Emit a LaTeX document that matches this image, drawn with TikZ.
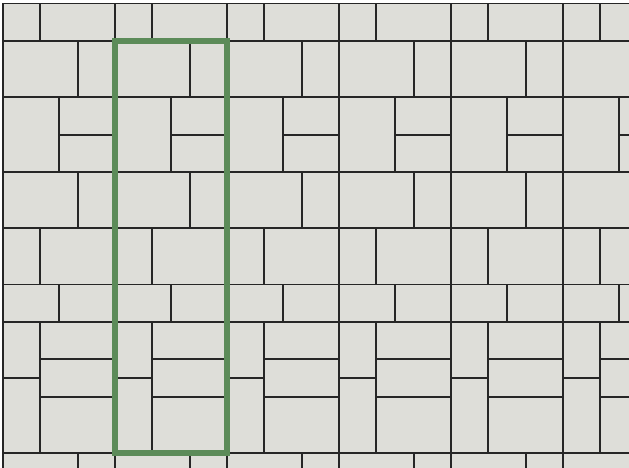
\documentclass[tikz,border=0pt]{standalone}
\definecolor{tilefill}{RGB}{222,222,217}
\definecolor{tileline}{RGB}{38,38,38}
\definecolor{framegreen}{RGB}{92,139,89}

\begin{document}
\begin{tikzpicture}[x=1.12cm, y=-1.1236cm,
  tile/.style={draw=tileline, fill=tilefill, line width=1.6pt},
  cell frame/.style={draw=framegreen, line width=5.2pt}]
\useasboundingbox (-3.45cm,1.23cm) rectangle (15.42cm,-12.81cm);
% one period cell is 3 x 11 tile units, repeated over the whole sheet
\begin{scope}
\clip (-3,-1) rectangle (14,11.6);
\foreach \i in {-1,...,4}
  \foreach \j in {-1,0,1}
    \foreach \xa/\ya/\xb/\yb in {0/0/2/1.5, 2/0/3/1.5,
        0/1.5/1.5/3.5, 1.5/1.5/3/2.5, 1.5/2.5/3/3.5,
        0/3.5/2/5, 2/3.5/3/5,
        0/5/1/6.5, 1/5/3/6.5,
        0/6.5/1.5/7.5, 1.5/6.5/3/7.5,
        0/7.5/1/9, 0/9/1/11, 1/7.5/3/8.5, 1/8.5/3/9.5, 1/9.5/3/11}
      \draw[tile] ({3*(\i)+\xa},{11*(\j)+\ya}) rectangle ({3*(\i)+\xb},{11*(\j)+\yb});
\end{scope}
\draw[tile, fill=none] (14,-1) -- (-3,-1) -- (-3,11.6);
% the repeating cell
\draw[cell frame] (0,0) rectangle (3,11);
\end{tikzpicture}
\end{document}
